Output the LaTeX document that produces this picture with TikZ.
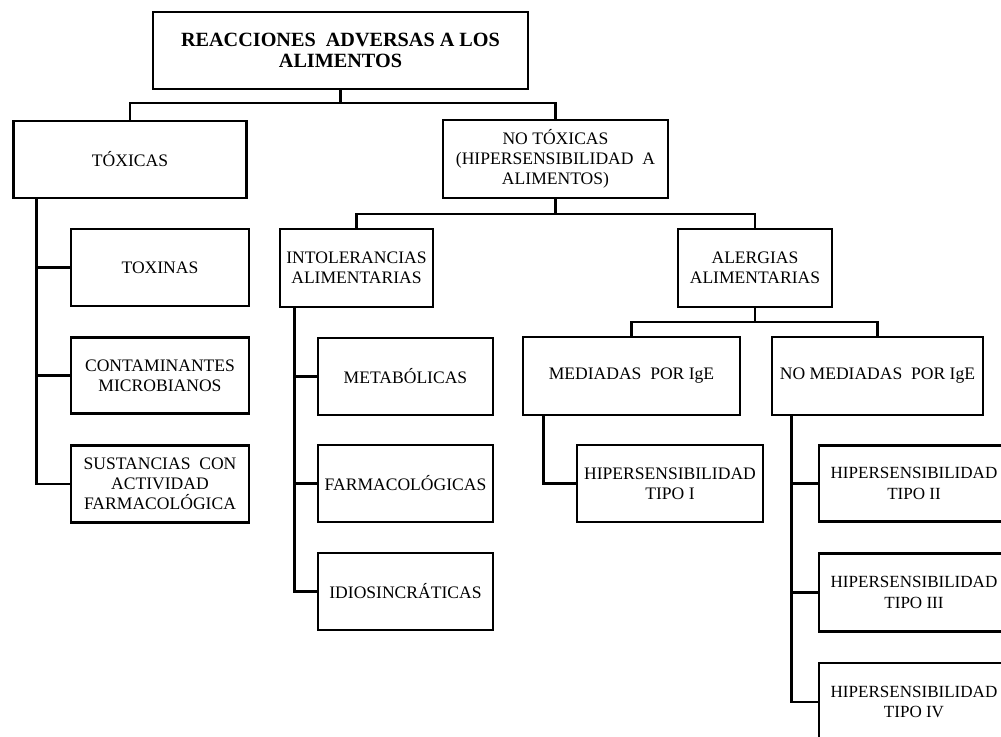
\documentclass[tikz,border=0pt]{standalone}
\usepackage{fontspec}
\setmainfont{Liberation Serif}
\begin{document}
\begin{tikzpicture}[x=0.02cm, y=-0.02cm,
	box/.style={shape=rectangle, draw, line width=1.6pt, align=center, inner sep=1pt, font=\fontsize{10}{11.5}\selectfont},
	edgebox/.style={box, minimum width=3.8cm, font=\fontsize{9.7}{11.5}\selectfont},
	wire/.style={line width=1.6pt}]
	\useasboundingbox (0,0) rectangle (1001,737);
	\clip (0,0) rectangle (1001,737);
	% Boxes:
	\node[box, minimum width=7.5cm, minimum height=1.54cm, font=\bfseries\fontsize{11.5}{12}\selectfont] (root) at (340.5, 50.5){REACCIONES\ \ ADVERSAS A LOS\\ALIMENTOS};
	\node[box, minimum width=4.66cm, minimum height=1.54cm] (tox) at (130, 159.5){TÓXICAS};
	\node[box, minimum width=4.5cm, minimum height=1.56cm] (notox) at (555.5, 159){NO TÓXICAS\\(HIPERSENSIBILIDAD\ \ A\\ALIMENTOS)};
	\node[box, minimum width=3.56cm, minimum height=1.54cm] (toxinas) at (160, 267.5){TOXINAS};
	\node[box, minimum width=3.56cm, minimum height=1.52cm] (contam) at (160, 375.5){CONTAMINANTES\\MICROBIANOS};
	\node[box, minimum width=3.56cm, minimum height=1.54cm] (sust) at (160, 484){SUSTANCIAS\ \ CON\\ACTIVIDAD\\FARMACOLÓGICA};
	\node[box, minimum width=3.06cm, minimum height=1.56cm] (intol) at (356.5, 268){INTOLERANCIAS\\ALIMENTARIAS};
	\node[box, minimum width=3.08cm, minimum height=1.56cm] (alerg) at (755, 268){ALERGIAS\\ALIMENTARIAS};
	\node[box, minimum width=3.5cm, minimum height=1.54cm] (metab) at (405.5, 376.5){METABÓLICAS};
	\node[box, minimum width=3.5cm, minimum height=1.54cm] (farma) at (405.5, 483.5){FARMACOLÓGICAS};
	\node[box, minimum width=3.5cm, minimum height=1.54cm] (idio) at (405.5, 591.5){IDIOSINCRÁTICAS};
	\node[box, minimum width=4.34cm, minimum height=1.56cm] (med) at (631.5, 376){MEDIADAS\ \ POR IgE};
	\node[box, minimum width=4.22cm, minimum height=1.56cm] (nomed) at (877.5, 376){NO MEDIADAS\ \ POR IgE};
	\node[box, minimum width=3.72cm, minimum height=1.54cm] (tipoI) at (670, 483.5){HIPERSENSIBILIDAD\\TIPO I};
	\node[edgebox, minimum height=1.52cm] (tipoII) at (914, 483.5){HIPERSENSIBILIDAD\\TIPO II};
	\node[edgebox, minimum height=1.56cm] (tipoIII) at (914, 592.5){HIPERSENSIBILIDAD\\TIPO III};
	\node[edgebox, minimum height=1.56cm] (tipoIV) at (914, 702){HIPERSENSIBILIDAD\\TIPO IV};
	% Wires:
	\coordinate (b0) at (340.5, 103);
	\coordinate (b1) at (555.5, 214);
	\coordinate (b2) at (755, 322);
	\draw[wire] (root.south) -- (b0);
	\draw[wire] (tox.north) |- (b0) -| (notox.north);
	\draw[wire] (notox.south) -- (b1);
	\draw[wire] (intol.north) |- (b1) -| (alerg.north);
	\draw[wire] (alerg.south) -- (b2);
	\draw[wire] (med.north) |- (b2) -| (nomed.north);
	\foreach \kid in {toxinas, contam, sust}
		\draw[wire] ([xshift=0.48cm]tox.south west) |- (\kid.west);
	\foreach \kid in {metab, farma, idio}
		\draw[wire] ([xshift=0.32cm]intol.south west) |- (\kid.west);
	\draw[wire] ([xshift=0.44cm]med.south west) |- (tipoI.west);
	\foreach \kid in {tipoII, tipoIII, tipoIV}
		\draw[wire] ([xshift=0.42cm]nomed.south west) |- (\kid.west);
\end{tikzpicture}
\end{document}
